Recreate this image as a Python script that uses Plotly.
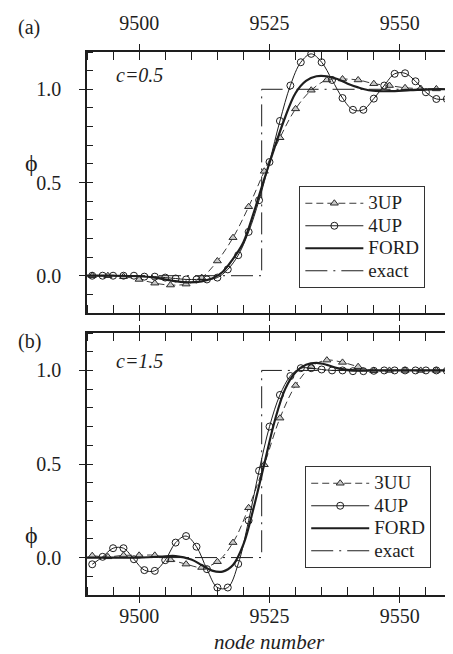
import plotly.graph_objects as go

# ---------------- data ----------------
# panel (a)  c = 0.5
x_4up_a = [9491, 9493, 9495, 9497, 9499, 9501, 9503, 9505, 9507, 9509, 9511, 9513,
           9515, 9517, 9519, 9521, 9523, 9525, 9527, 9529, 9531, 9533, 9535, 9537,
           9539, 9541, 9543, 9545, 9547, 9549, 9551, 9553, 9555, 9557, 9559]
y_4up_a = [0.0, 0.0, 0.0, 0.0, 0.0, -0.005, -0.005, -0.01, -0.015, -0.02, -0.02, -0.02,
           -0.01, 0.034, 0.11, 0.235, 0.405, 0.61, 0.83, 1.02, 1.145, 1.19, 1.145, 1.05,
           0.953, 0.89, 0.89, 0.95, 1.02, 1.083, 1.086, 1.043, 0.984, 0.948, 0.948]

x_3up_a = [9491, 9494, 9497, 9500, 9503, 9506, 9509, 9512, 9515, 9518, 9521, 9524,
           9527, 9530, 9533, 9536, 9539, 9542, 9545, 9548, 9551, 9554, 9557, 9560]
y_3up_a = [0.0, 0.0, -0.005, -0.02, -0.04, -0.05, -0.045, -0.01, 0.079, 0.204, 0.37, 0.56,
           0.74, 0.895, 0.995, 1.05, 1.055, 1.05, 1.03, 1.02, 1.008, 1.004, 1.002, 1.0]

x_ford_a = [9490, 9495, 9500, 9503, 9506, 9509, 9512, 9514, 9516, 9518, 9520, 9522, 9524,
            9526, 9528, 9530, 9532, 9534, 9536, 9538, 9540, 9542, 9544, 9546, 9548, 9552,
            9556, 9560]
y_ford_a = [0.0, 0.0, -0.003, -0.01, -0.025, -0.035, -0.03, -0.015, 0.02, 0.09, 0.18, 0.34,
            0.52, 0.69, 0.85, 0.98, 1.045, 1.07, 1.07, 1.055, 1.03, 1.01, 0.995, 0.99, 0.99,
            0.995, 1.0, 1.0]

# panel (b)  c = 1.5
x_4up_b = x_4up_a
y_4up_b = [-0.036, 0.004, 0.05, 0.05, -0.009, -0.067, -0.071, -0.014, 0.08, 0.115, 0.058,
           -0.062, -0.16, -0.16, -0.034, 0.198, 0.464, 0.70, 0.869, 0.97, 1.012, 1.012,
           1.005, 1.0, 1.0, 0.996, 0.996, 0.998, 1.0, 1.0, 1.0, 1.0, 1.0, 1.0, 0.998]

x_3uu_b = x_3up_a
y_3uu_b = [0.01, 0.004, 0.012, 0.012, 0.012, -0.012, -0.035, -0.053, -0.022, 0.08, 0.266,
           0.496, 0.745, 0.92, 1.02, 1.055, 1.043, 1.02, 0.998, 1.0, 1.0, 1.0, 1.0, 1.0]

x_ford_b = [9490, 9495, 9500, 9504, 9507, 9510, 9512, 9514, 9516, 9518, 9520, 9522, 9524,
            9526, 9528, 9530, 9532, 9534, 9536, 9538, 9540, 9545, 9550, 9560]
y_ford_b = [0.0, 0.0, 0.0, 0.005, 0.008, -0.01, -0.04, -0.07, -0.075, -0.04, 0.07, 0.27,
            0.5, 0.73, 0.9, 0.99, 1.03, 1.04, 1.03, 1.012, 1.003, 1.0, 1.0, 1.0]

x_exact = [9490, 9523.5, 9523.5, 9560]
y_exact = [0.0, 0.0, 1.0, 1.0]

x_ticks = [9500, 9525, 9550]
y_ticks = [0.0, 0.5, 1.0]
y_ticktext = ["0.0", "0.5", "1.0"]

# ---------------- figure ----------------
INK = "#1e1e1e"
FONT = "'Liberation Serif', 'Times New Roman', Times, serif"
W, H = 453, 654
ML, MR, MT, MB = 79, 1, 44, 67
PW, PH = W - ML - MR, H - MT - MB


def px(xp):
    return (xp - ML) / PW


def py(yp):
    return (H - MB - yp) / PH


def big(s):
    return '<span style="font-size:19px">' + s + '</span>'


fig = go.Figure()

panels = [
    ("x", "y", "legend", ["3UP", "4UP", "FORD", "exact"],
     x_3up_a, y_3up_a, x_4up_a, y_4up_a, x_ford_a, y_ford_a),
    ("x2", "y2", "legend2", ["3UU", "4UP", "FORD", "exact"],
     x_3uu_b, y_3uu_b, x_4up_b, y_4up_b, x_ford_b, y_ford_b),
]

for xa, ya, lg, names, x3, y3, x4, y4, xf, yf in panels:
    fig.add_trace(go.Scatter(
        x=x3, y=y3, xaxis=xa, yaxis=ya, legend=lg, name=big(names[0]),
        mode="lines+markers", line=dict(color="#3a3a3a", width=1, dash="7px,4px", shape="spline"),
        marker=dict(symbol="triangle-up", size=7, color="#c8c8c8",
                    line=dict(color="#2a2a2a", width=1))))
    fig.add_trace(go.Scatter(
        x=x4, y=y4, xaxis=xa, yaxis=ya, legend=lg, name=big(names[1]),
        mode="lines+markers", line=dict(color=INK, width=1, shape="spline"),
        marker=dict(symbol="circle-open", size=7, color=INK, line=dict(width=1))))
    fig.add_trace(go.Scatter(
        x=xf, y=yf, xaxis=xa, yaxis=ya, legend=lg, name=big(names[2]),
        mode="lines", line=dict(color=INK, width=2.2, shape="spline")))
    fig.add_trace(go.Scatter(
        x=x_exact, y=y_exact, xaxis=xa, yaxis=ya, legend=lg, name=big(names[3]),
        mode="lines", line=dict(color=INK, width=1, dash="22px,6px,2px,6px")))

top_dom = [py(305), 1.0]
bot_dom = [0.0, py(325)]

axis_common = dict(
    showline=True, linecolor=INK, linewidth=1.5, mirror="allticks",
    ticks="outside", ticklen=6, tickwidth=1.2, tickcolor=INK,
    showgrid=False, zeroline=False,
    tickfont=dict(family=FONT, size=20, color=INK),
)

legend_common = dict(xanchor="left", yanchor="top", bgcolor="white", bordercolor="#333",
                     borderwidth=1, font=dict(family=FONT, size=15, color=INK),
                     itemwidth=58, tracegroupgap=0)

fig.update_layout(
    width=W, height=H,
    margin=dict(l=ML, r=MR, t=MT, b=MB),
    paper_bgcolor="white", plot_bgcolor="white",
    font=dict(family=FONT, color=INK),
    xaxis=dict(axis_common, domain=[0, 1], anchor="y", side="top", range=[9490, 9560],
               tickvals=x_ticks, ticklabelstandoff=6,
               minor=dict(dtick=5, tick0=9490, ticks="inside", ticklen=8,
                          tickwidth=1, tickcolor=INK)),
    yaxis=dict(axis_common, domain=top_dom, anchor="x", range=[-0.2, 1.2],
               tickvals=y_ticks, ticktext=y_ticktext, ticklabelstandoff=14,
               minor=dict(dtick=0.1, tick0=0, ticks="inside", ticklen=6, tickwidth=1,
                          tickcolor=INK)),
    xaxis2=dict(axis_common, domain=[0, 1], anchor="y2", side="bottom", range=[9490, 9560],
                tickvals=x_ticks, ticklabelstandoff=-4,
                minor=dict(dtick=5, tick0=9490, ticks="inside", ticklen=8,
                           tickwidth=1, tickcolor=INK)),
    yaxis2=dict(axis_common, domain=bot_dom, anchor="x2", range=[-0.2, 1.2],
                tickvals=y_ticks, ticktext=y_ticktext, ticklabelstandoff=14,
                minor=dict(dtick=0.1, tick0=0, ticks="inside", ticklen=6, tickwidth=1,
                           tickcolor=INK)),
    legend=dict(legend_common, x=px(296), y=py(178)),
    legend2=dict(legend_common, x=px(302), y=py(458)),
)

ann = [
    ("(a)", 20, 20, 20, False),
    ("(b)", 20, 333, 20, False),
    ("ϕ", 22, 155, 24, False),
    ("ϕ", 22, 527, 24, False),
    ("c=0.5", 133, 67, 20, True),
    ("c=1.5", 133, 353, 20, True),
    ("node number", 266, 634, 21, True),
]
for text, xp, yp, size, ital in ann:
    fig.add_annotation(
        x=px(xp), y=py(yp), xref="paper", yref="paper", text=text, showarrow=False,
        xanchor="center", yanchor="middle",
        font=dict(family=FONT, size=size, color=INK, style="italic" if ital else "normal"))

fig.write_html("out.html")
